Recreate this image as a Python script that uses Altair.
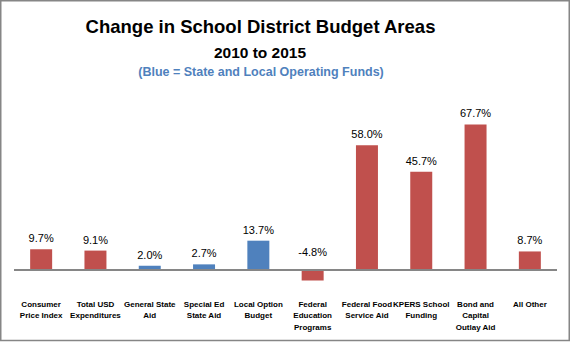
import altair as alt
import pandas as pd

categories = [
    "Consumer|Price Index",
    "Total USD|Expenditures",
    "General State|Aid",
    "Special Ed|State Aid",
    "Local Option|Budget",
    "Federal|Education|Programs",
    "Federal Food|Service Aid",
    "KPERS School|Funding",
    "Bond and|Capital|Outlay Aid",
    "All Other",
]
values = [9.7, 9.1, 2.0, 2.7, 13.7, -4.8, 58.0, 45.7, 67.7, 8.7]
groups = ["Other", "Other", "State and Local", "State and Local", "State and Local",
          "Other", "Other", "Other", "Other", "Other"]

title_lines = ["Change in School District Budget Areas", "2010 to 2015",
               "(Blue = State and Local Operating Funds)"]

df = pd.DataFrame({"cat": categories, "v": values, "grp": groups})

W, H = 543, 198
PL, PT = 14, 98

yscale = alt.Scale(domain=[-12, 80], nice=False, zero=False)

x = alt.X("cat:N", sort=categories, title=None,
          scale=alt.Scale(paddingInner=0.595, paddingOuter=0.2975),
          axis=alt.Axis(labelExpr="split(datum.label, '|')", labelAngle=0,
                        domain=False, ticks=False, labelFont="Liberation Sans",
                        labelFontWeight="bold", labelFontSize=8, labelColor="#000000",
                        labelLineHeight=11.5, labelPadding=4, labelBaseline="top"))

base = alt.Chart(df).transform_calculate(
    z="0",
    lp="datum.v < 0 ? 3.4 : datum.v",
    txt="(datum.v < 0 ? '-' : '') + format(abs(datum.v), '.1f') + '%'",
)

bars = base.mark_bar().encode(
    x=x, y=alt.Y("v:Q", scale=yscale, axis=None), y2="z:Q",
    color=alt.Color("grp:N", scale=alt.Scale(domain=["Other", "State and Local"],
                                              range=["#C0504D", "#4F81BD"]), legend=None),
)

zero = base.mark_rule(color="#868686", strokeWidth=1.2).encode(
    y=alt.Y("z:Q", scale=yscale, axis=None))

labels = base.mark_text(font="Liberation Sans", fontSize=11, baseline="alphabetic", dy=-7,
                        color="#000000").encode(
    x=x, y=alt.Y("lp:Q", scale=yscale, axis=None), text="txt:N")

tdf = pd.DataFrame({"t": title_lines, "k": [0, 1, 2]})

t1 = alt.Chart(tdf).transform_filter("datum.k == 0").mark_text(
    font="Liberation Sans", fontWeight="bold", fontSize=18.5,
    color="#000000", baseline="alphabetic", align="center").encode(
    text="t:N", x=alt.value(246.5), y=alt.value(33 - PT))
t2 = alt.Chart(tdf).transform_filter("datum.k == 1").mark_text(
    font="Liberation Sans", fontWeight="bold", fontSize=15.5,
    color="#000000", baseline="alphabetic", align="center").encode(
    text="t:N", x=alt.value(246), y=alt.value(58 - PT))
t3 = alt.Chart(tdf).transform_filter("datum.k == 2").mark_text(
    font="Liberation Sans", fontWeight="bold", fontSize=12.5,
    color="#4F81BD", baseline="alphabetic", align="center").encode(
    text="t:N", x=alt.value(247), y=alt.value(76 - PT))

border = alt.Chart(tdf).transform_filter("datum.k == 0").mark_rect(
    fillOpacity=0, stroke="#868686", strokeWidth=1.5).encode(
    x=alt.value(0.75 - PL), x2=alt.value(569.25 - PL),
    y=alt.value(0.75 - PT), y2=alt.value(340.5 - PT))

chart = alt.layer(border, bars, zero, labels, t1, t2, t3).properties(
    width=W, height=H,
    autosize=alt.AutoSizeParams(type="none"),
    padding={"left": PL, "top": PT, "right": 571 - PL - W, "bottom": 342 - PT - H},
    background="white",
).configure_view(stroke=None)

chart.save("out.html", embed_options={"renderer": "svg", "actions": False})
